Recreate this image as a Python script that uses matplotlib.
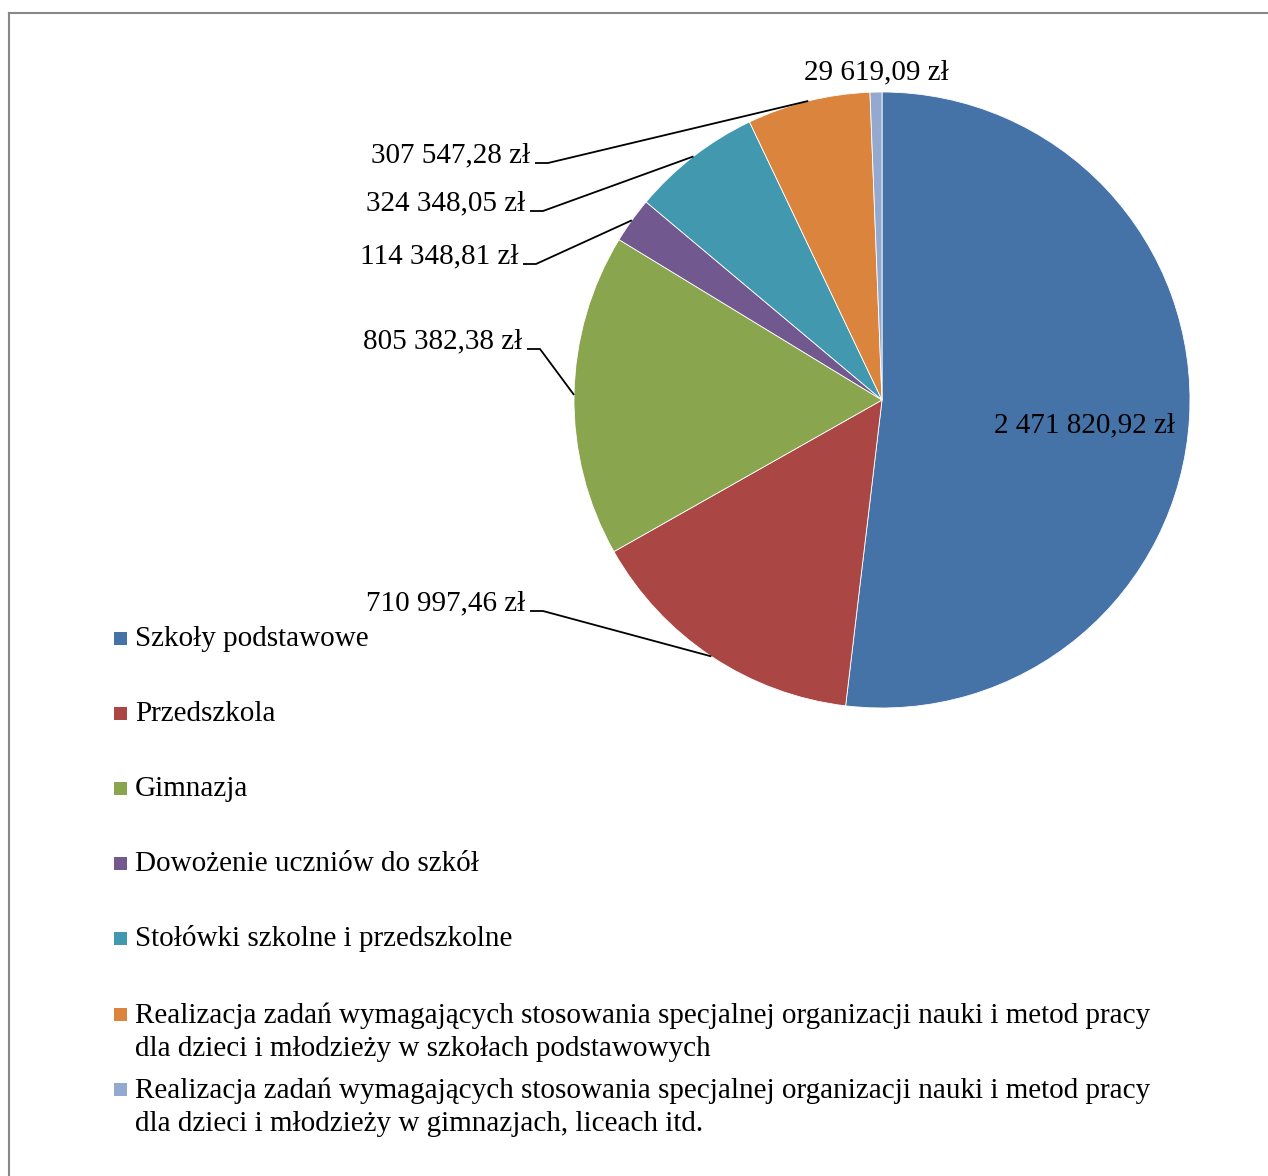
import matplotlib

matplotlib.use("Agg")
import matplotlib.pyplot as plt
import numpy as np
from matplotlib.lines import Line2D
from matplotlib.patches import Rectangle

plt.rcParams["font.family"] = ["Liberation Serif", "DejaVu Serif"]

W, H = 1268, 1176

categories = [
    "Szkoły podstawowe",
    "Przedszkola",
    "Gimnazja",
    "Dowożenie uczniów do szkół",
    "Stołówki szkolne i przedszkolne",
    "Realizacja zadań wymagających stosowania specjalnej organizacji nauki i metod pracy\n"
    "dla dzieci i młodzieży w szkołach podstawowych",
    "Realizacja zadań wymagających stosowania specjalnej organizacji nauki i metod pracy\n"
    "dla dzieci i młodzieży w gimnazjach, liceach itd.",
]
values = [2471820.92, 710997.46, 805382.38, 114348.81, 324348.05, 307547.28, 29619.09]
value_labels = [
    "2 471 820,92 zł",
    "710 997,46 zł",
    "805 382,38 zł",
    "114 348,81 zł",
    "324 348,05 zł",
    "307 547,28 zł",
    "29 619,09 zł",
]
colors = ["#4572A7", "#AA4643", "#89A54E", "#71588F", "#4198AF", "#DB843D", "#93A9CF"]

# layout (pixel coordinates, y downwards)
center = (882, 400)
radius = 308
# (x, y, ha, leader)
label_pos = [
    (1084, 425, "center", False),
    (525, 603, "right", True),
    (522, 341, "right", True),
    (518, 256, "right", True),
    (525, 203, "right", True),
    (530, 155, "right", True),
    (876, 72, "center", False),
]
legend_baselines = [646, 721, 796, 871, 946, 1022, 1097]
LINE_STEP = 34
FS = 21

fig = plt.figure(figsize=(W / 100, H / 100), dpi=100)
ax = fig.add_axes([0, 0, 1, 1])

wedges, _ = ax.pie(
    values,
    colors=colors,
    center=center,
    radius=radius,
    startangle=-90,
    counterclock=True,
    wedgeprops=dict(edgecolor="white", linewidth=0.6),
)
ax.set_xlim(0, W)
ax.set_ylim(H, 0)
ax.set_aspect("equal")
ax.axis("off")

for wedge, text, (x, y, ha, leader) in zip(wedges, value_labels, label_pos):
    ax.text(x, y, text, fontsize=FS, ha=ha, va="center", color="black")
    if leader:
        mid = np.deg2rad((wedge.theta1 + wedge.theta2) / 2)
        px = center[0] + radius * np.cos(mid)
        py = center[1] + radius * np.sin(mid)
        ly = y + 8
        ax.plot([x + 5, x + 18, px], [ly, ly, py], color="black", lw=1.3,
                solid_capstyle="butt")

for cat, col, base in zip(categories, colors, legend_baselines):
    n_lines = cat.count("\n") + 1
    ax.add_patch(Rectangle((114, base - 14), 13, 13, facecolor=col, edgecolor="none"))
    # baseline alignment refers to the last line of multi-line text
    ax.text(135, base + (n_lines - 1) * LINE_STEP, cat, fontsize=FS, ha="left",
            va="baseline", linespacing=1.37, color="black")

# outer frame (left and top edges only visible)
fig.add_artist(Line2D([8.5 / W, 8.5 / W], [0, 1 - 12.5 / H], color="#878787", lw=1.5,
                      transform=fig.transFigure))
fig.add_artist(Line2D([8.5 / W, 1], [1 - 12.5 / H, 1 - 12.5 / H], color="#878787", lw=1.5,
                      transform=fig.transFigure))

fig.savefig("out.png", dpi=100, facecolor="white")
